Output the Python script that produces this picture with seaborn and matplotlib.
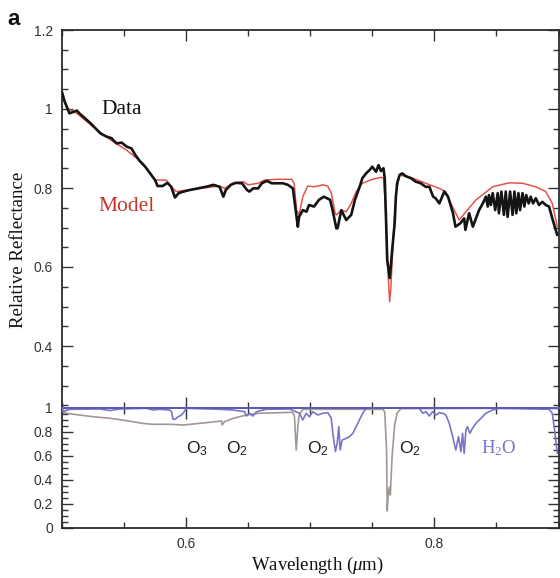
import numpy as np
import pandas as pd
import matplotlib
matplotlib.use("Agg")
import matplotlib.pyplot as plt
from matplotlib.ticker import MultipleLocator, FixedLocator, FixedFormatter
import seaborn as sns

# ---------------- data ----------------
data_wl = [0.500, 0.502, 0.506, 0.512, 0.514, 0.523, 0.531, 0.536, 0.540, 0.541, 0.544, 0.548,
           0.552, 0.556, 0.559, 0.563, 0.567, 0.571, 0.575, 0.577, 0.581, 0.585, 0.588, 0.591,
           0.594, 0.598, 0.603, 0.608, 0.614, 0.616, 0.622, 0.627, 0.630, 0.632, 0.636, 0.640,
           0.645, 0.649, 0.651, 0.654, 0.658, 0.661, 0.665, 0.669, 0.674, 0.678, 0.682, 0.686,
           0.689, 0.690, 0.691, 0.694, 0.697, 0.699, 0.703, 0.707, 0.711, 0.716, 0.718, 0.721,
           0.722, 0.725, 0.729, 0.733, 0.736, 0.740, 0.742, 0.745, 0.748, 0.750, 0.753, 0.755,
           0.757, 0.759, 0.760, 0.761, 0.762, 0.764, 0.765, 0.766, 0.768, 0.769, 0.770, 0.772,
           0.774, 0.777, 0.781, 0.785, 0.789, 0.793, 0.796, 0.799, 0.801, 0.804, 0.808, 0.811,
           0.815, 0.817, 0.821, 0.824, 0.825, 0.828, 0.831, 0.834, 0.836, 0.839, 0.8415, 0.843,
           0.844, 0.8455, 0.847, 0.849, 0.851, 0.852, 0.854, 0.856, 0.8575, 0.859, 0.861, 0.863,
           0.8645, 0.866, 0.8677, 0.869, 0.871, 0.8725, 0.874, 0.876, 0.8776, 0.8795, 0.8817,
           0.8843, 0.887, 0.8897, 0.8924, 0.895, 0.8977, 0.899]
data_val = [1.043, 1.020, 0.989, 0.996, 0.989, 0.964, 0.938, 0.930, 0.926, 0.922, 0.913, 0.915,
            0.905, 0.900, 0.884, 0.867, 0.854, 0.837, 0.820, 0.805, 0.805, 0.813, 0.803, 0.776,
            0.787, 0.791, 0.795, 0.798, 0.802, 0.803, 0.808, 0.803, 0.778, 0.795, 0.808, 0.813,
            0.812, 0.795, 0.791, 0.799, 0.799, 0.812, 0.818, 0.812, 0.812, 0.812, 0.808, 0.799,
            0.727, 0.702, 0.727, 0.744, 0.740, 0.757, 0.753, 0.770, 0.778, 0.770, 0.744, 0.698,
            0.698, 0.744, 0.719, 0.732, 0.770, 0.805, 0.825, 0.837, 0.846, 0.854, 0.841, 0.858,
            0.843, 0.850, 0.825, 0.727, 0.618, 0.572, 0.605, 0.643, 0.711, 0.778, 0.812, 0.833,
            0.837, 0.830, 0.825, 0.816, 0.812, 0.803, 0.803, 0.778, 0.774, 0.761, 0.791, 0.778,
            0.736, 0.702, 0.711, 0.723, 0.694, 0.736, 0.702, 0.727, 0.744, 0.761, 0.778, 0.753,
            0.782, 0.757, 0.787, 0.744, 0.787, 0.736, 0.791, 0.732, 0.791, 0.727, 0.791, 0.732,
            0.791, 0.736, 0.787, 0.744, 0.787, 0.753, 0.782, 0.761, 0.778, 0.761, 0.774,
            0.757, 0.765, 0.757, 0.753, 0.723, 0.694, 0.681]

model_wl = [0.500, 0.504, 0.512, 0.525, 0.539, 0.552, 0.565, 0.575, 0.584, 0.588, 0.592, 0.606,
            0.619, 0.627, 0.631, 0.638, 0.646, 0.650, 0.658, 0.663, 0.673, 0.685, 0.687, 0.689,
            0.691, 0.694, 0.698, 0.703, 0.710, 0.714, 0.717, 0.720, 0.721, 0.725, 0.729, 0.733,
            0.737, 0.742, 0.750, 0.757, 0.759, 0.7605, 0.7625, 0.764, 0.765, 0.7665, 0.769,
            0.772, 0.7825, 0.793, 0.804, 0.809, 0.8145, 0.820, 0.8255, 0.8335, 0.847, 0.860,
            0.871, 0.8817, 0.8897, 0.895, 0.899]
model_val = [1.035, 1.002, 0.989, 0.955, 0.922, 0.896, 0.863, 0.820, 0.820, 0.803, 0.791, 0.797,
             0.802, 0.805, 0.799, 0.813, 0.816, 0.808, 0.812, 0.820, 0.822, 0.822, 0.812, 0.744,
             0.732, 0.778, 0.805, 0.803, 0.808, 0.805, 0.787, 0.736, 0.732, 0.744, 0.740, 0.761,
             0.791, 0.812, 0.822, 0.827, 0.825, 0.761, 0.592, 0.512, 0.550, 0.651, 0.787,
             0.833, 0.825, 0.812, 0.799, 0.791, 0.753, 0.719, 0.740, 0.770, 0.803, 0.813,
             0.812, 0.803, 0.791, 0.761, 0.702]

o2o3_wl = [0.500, 0.514, 0.525, 0.539, 0.552, 0.565, 0.573, 0.587, 0.598, 0.611, 0.624, 0.6285,
           0.629, 0.631, 0.638, 0.6485, 0.659, 0.686, 0.6873, 0.6887, 0.690, 0.691, 0.694, 0.758,
           0.7585, 0.760, 0.7615, 0.762, 0.763, 0.764, 0.7645, 0.766, 0.768, 0.770, 0.773, 0.900]
o2o3_val = [0.957, 0.9375, 0.923, 0.910, 0.890, 0.868, 0.860, 0.860, 0.854, 0.868, 0.882, 0.8875,
            0.854, 0.882, 0.910, 0.9375, 0.952, 0.960, 0.923, 0.646, 0.840, 0.9375, 0.985, 0.985,
            0.9875, 0.9625, 0.646, 0.1375, 0.3125, 0.3375, 0.271, 0.604, 0.854, 0.954, 0.990, 0.995]

h2o_wl = [0.500, 0.501, 0.5064, 0.5306, 0.5386, 0.5466, 0.568, 0.5734, 0.5788, 0.5868, 0.5882,
          0.5895, 0.5909, 0.5922, 0.5935, 0.5949, 0.5962, 0.5975, 0.6003, 0.627, 0.6377, 0.6471,
          0.6485, 0.6512, 0.6538, 0.6565, 0.6592, 0.6646, 0.6833, 0.6914, 0.694, 0.6967, 0.6994,
          0.7021, 0.7061, 0.7101, 0.7142, 0.7169, 0.7182, 0.7203, 0.7217, 0.723, 0.7241, 0.7257,
          0.729, 0.7316, 0.7343, 0.737, 0.7396, 0.7423, 0.745, 0.749, 0.784, 0.7879, 0.7906,
          0.7933, 0.7959, 0.7986, 0.8013, 0.804, 0.8066, 0.8093, 0.812, 0.8147, 0.8173, 0.8194,
          0.8214, 0.8227, 0.824, 0.8254, 0.8267, 0.8286, 0.8307, 0.8334, 0.8375, 0.8415, 0.8468,
          0.8522, 0.8924, 0.895, 0.8972, 0.899]
h2o_val = [0.993, 0.965, 0.985, 0.9875, 0.975, 0.9875, 0.993, 0.979, 0.985, 0.979, 0.965,
           0.902, 0.902, 0.910, 0.923, 0.929, 0.9375, 0.952, 0.993, 0.985, 0.979, 0.965,
           0.929, 0.952, 0.929, 0.9625, 0.973, 0.985, 0.9875, 0.952, 0.896, 0.952, 0.923,
           0.965, 0.9375, 0.952, 0.957, 0.910, 0.785, 0.632, 0.702, 0.840, 0.646, 0.729,
           0.743, 0.757, 0.785, 0.840, 0.896, 0.952, 0.993, 1.0, 1.0, 0.993, 0.952,
           0.965, 0.929, 0.965, 0.9375, 0.957, 0.952, 0.9375, 0.868, 0.757, 0.646, 0.757,
           0.632, 0.785, 0.618, 0.8125, 0.840, 0.785, 0.827, 0.868, 0.910, 0.952, 0.979,
           0.993, 0.985, 0.952, 0.785, 0.618]

baseline_wl = [0.500, 0.900]
baseline_val = [1.0, 1.0]

top_yticks = [0.4, 0.6, 0.8, 1.0, 1.2]
top_yticklabels = ["0.4", "0.6", "0.8", "1", "1.2"]
bot_yticks = [0.0, 0.2, 0.4, 0.6, 0.8, 1.0]
bot_yticklabels = ["0", "0.2", "0.4", "0.6", "0.8", "1"]
xticks = [0.6, 0.8]
xticklabels = ["0.6", "0.8"]

band_labels = [r"$\mathsf{O_3}$", r"$\mathsf{O_2}$", r"$\mathsf{O_2}$", r"$\mathsf{O_2}$"]
band_label_wl = [0.609, 0.641, 0.706, 0.780]
band_label_y = 0.66

# ---------------- style ----------------
sns.set_theme(style="ticks")
plt.rcParams["font.family"] = ["Liberation Sans", "DejaVu Sans"]
plt.rcParams["mathtext.fontset"] = "custom"
plt.rcParams["mathtext.rm"] = "Liberation Serif"
plt.rcParams["mathtext.it"] = "Liberation Serif:italic"
plt.rcParams["mathtext.sf"] = "Liberation Sans"

W, H = 560, 578
fig = plt.figure(figsize=(W / 100, H / 100), dpi=100)
fig.patch.set_facecolor("white")

left, right = 62 / W, 558.5 / W
top_px, mid_px, bot_px = 30, 407.5, 527.5
ax_top = fig.add_axes([left, 1 - mid_px / H, right - left, (mid_px - top_px) / H])
ax_bot = fig.add_axes([left, 1 - bot_px / H, right - left, (bot_px - mid_px) / H])
for a in (ax_top, ax_bot):
    a.set_facecolor("none")

spine_c = "#2b2b2b"
tick_c = "#333333"

df_data = pd.DataFrame({"wl": data_wl, "val": data_val})
df_model = pd.DataFrame({"wl": model_wl, "val": model_val})
df_o = pd.DataFrame({"wl": o2o3_wl, "val": o2o3_val})
df_h = pd.DataFrame({"wl": h2o_wl, "val": h2o_val})
df_b = pd.DataFrame({"wl": baseline_wl, "val": baseline_val})

sns.lineplot(data=df_model, x="wl", y="val", ax=ax_top, color="#e4534b", lw=1.1,
             sort=False, estimator=None, zorder=2)
sns.lineplot(data=df_data, x="wl", y="val", ax=ax_top, color="#141414", lw=1.9,
             sort=False, estimator=None, zorder=3)

sns.lineplot(data=df_o, x="wl", y="val", ax=ax_bot, color="#a29893", lw=1.2,
             sort=False, estimator=None, zorder=2)
sns.lineplot(data=df_h, x="wl", y="val", ax=ax_bot, color="#7a74c9", lw=1.2,
             sort=False, estimator=None, zorder=3)
sns.lineplot(data=df_b, x="wl", y="val", ax=ax_bot, color="#5c5cb8", lw=1.4,
             sort=False, estimator=None, zorder=4)
for l in ax_bot.lines[-1:]:
    l.set_clip_on(False)

# axes limits
ax_top.set_xlim(0.5, 0.9)
ax_bot.set_xlim(0.5, 0.9)
ax_top.set_ylim(1.2 - (mid_px - top_px) / 395.0, 1.2)
ax_bot.set_ylim(0, 1)

for a in (ax_top, ax_bot):
    a.set_xlabel("")
    a.set_ylabel("")
    a.xaxis.set_minor_locator(MultipleLocator(0.05))
    a.yaxis.set_minor_locator(MultipleLocator(0.05))
    a.xaxis.set_major_locator(FixedLocator(xticks))
    a.tick_params(which="both", direction="in", top=True, right=True, bottom=True, left=True,
                  color=tick_c, width=1.0, labelcolor=tick_c, labelsize=10)
    a.tick_params(which="major", length=8, pad=6.5)
    a.tick_params(which="minor", length=4.5)
    for s in a.spines.values():
        s.set_color(spine_c)
        s.set_linewidth(1.3)
        s.set_visible(True)

ax_top.yaxis.set_major_locator(FixedLocator(top_yticks))
ax_top.yaxis.set_major_formatter(FixedFormatter(top_yticklabels))
ax_top.tick_params(axis="x", labelbottom=False)
ax_top.spines["bottom"].set_visible(False)

ax_bot.yaxis.set_major_locator(FixedLocator(bot_yticks))
ax_bot.yaxis.set_major_formatter(FixedFormatter(bot_yticklabels))
ax_bot.xaxis.set_major_formatter(FixedFormatter(xticklabels))
ax_bot.spines["top"].set_color("#5c5cb8")

# texts
ax_top.text(0.548, 1.0, "Data", fontsize=15.5, family="Liberation Serif", color="#111111",
            ha="center", va="center")
ax_top.text(0.552, 0.752, "Model", fontsize=15.5, family="Liberation Serif", color="#c8352c",
            ha="center", va="center")

for lab, xw in zip(band_labels, band_label_wl):
    ax_bot.text(xw, band_label_y, lab, fontsize=12.5, color="#1a1a1a",
                ha="center", va="center")
ax_bot.text(0.852, band_label_y, r"$\mathrm{H_2O}$", fontsize=13.5, color="#7a74c9",
            ha="center", va="center")

fig.text(0.033, 0.567, "Relative Reflectance", rotation=90, fontsize=13.5,
         family="Liberation Serif", color="#111111", ha="center", va="center")
fig.text(0.567, 0.022, r"Wavelength ($\mu$m)", fontsize=13.5, family="Liberation Serif",
         color="#111111", ha="center", va="center")
fig.text(0.014, 0.985, "a", fontsize=16, weight="bold", family="Liberation Sans",
         color="#111111", ha="left", va="top")

fig.savefig("out.png", dpi=100, facecolor="white")
